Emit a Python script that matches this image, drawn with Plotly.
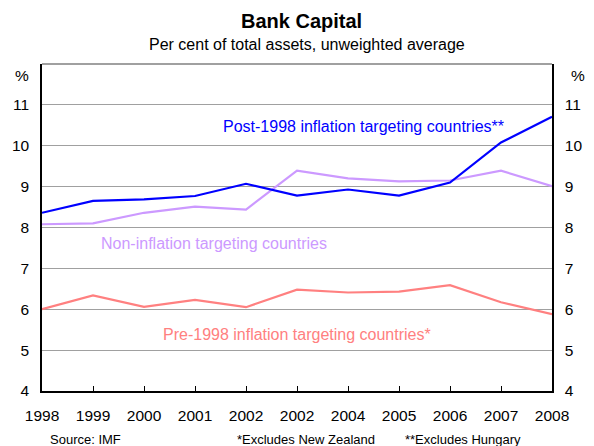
import plotly.graph_objects as go

# Bank capital ratios, per cent of total assets (unweighted average)
years = ["1998", "1999", "2000", "2001", "2002", "2002", "2004", "2005", "2006", "2007", "2008"]
post_1998_it = [8.36, 8.65, 8.69, 8.77, 9.07, 8.78, 8.93, 8.78, 9.10, 10.08, 10.71]
non_it = [8.08, 8.10, 8.36, 8.51, 8.44, 9.39, 9.20, 9.13, 9.15, 9.39, 9.01]
pre_1998_it = [6.00, 6.34, 6.06, 6.23, 6.05, 6.48, 6.41, 6.43, 6.59, 6.17, 5.88]
y_ticks = [4, 5, 6, 7, 8, 9, 10, 11]

xpos = list(range(len(years)))
FONT = "Liberation Sans, Arial, sans-serif"
PLOT_TOP, PLOT_H, PLOT_L, PLOT_W = 64, 327, 40, 519


def py(pixel_y):
    """Paper y coordinate from a pixel row of the page."""
    return 1 - (pixel_y - PLOT_TOP) / PLOT_H


def px(pixel_x):
    """Paper x coordinate from a pixel column of the page."""
    return (pixel_x - PLOT_L) / PLOT_W


fig = go.Figure()
series = [
    (non_it, "#CC99FF"),
    (pre_1998_it, "#FF8080"),
    (post_1998_it, "#0000FF"),
]
for vals, col in series:
    fig.add_trace(go.Scatter(x=xpos, y=vals, mode="lines",
                             line=dict(color=col, width=2.2), showlegend=False,
                             hoverinfo="skip"))
# invisible trace to drive the right-hand axis
fig.add_trace(go.Scatter(x=xpos, y=pre_1998_it, yaxis="y2", mode="lines",
                         line=dict(width=0), opacity=0, showlegend=False,
                         hoverinfo="skip"))

fig.update_layout(
    width=594, height=446,
    margin=dict(l=40, r=35, t=64, b=55),
    paper_bgcolor="white", plot_bgcolor="white",
    font=dict(family=FONT, size=15.5, color="black"),
    xaxis=dict(range=[0, len(years) - 1], tickvals=xpos, ticktext=years,
               ticks="inside", ticklen=5, tickcolor="black", tickwidth=1,
               showgrid=False, zeroline=False,
               showline=True, linecolor="black", linewidth=1.5,
               ticklabelstandoff=10, tickfont=dict(size=15.5)),
    yaxis=dict(range=[4, 12], tickvals=y_ticks, ticks="", showgrid=True,
               gridcolor="#A0A0A0", gridwidth=1, zeroline=False,
               showline=True, linecolor="black", linewidth=1.5,
               ticklabelstandoff=8, tickfont=dict(size=15.5)),
    yaxis2=dict(range=[4, 12], tickvals=y_ticks, overlaying="y", side="right",
                ticks="", showgrid=False, zeroline=False,
                showline=True, linecolor="black", linewidth=1.5,
                ticklabelstandoff=8, tickfont=dict(size=15.5)),
    shapes=[dict(type="line", xref="paper", yref="paper", x0=0, x1=1, y0=1, y1=1,
                 line=dict(color="#808080", width=1.5))],
)

# title and subtitle
fig.add_annotation(text="<b>Bank Capital</b>", xref="paper", yref="paper",
                   x=px(304), y=py(21), showarrow=False,
                   font=dict(size=20, color="black", family=FONT),
                   xanchor="center", yanchor="middle")
fig.add_annotation(text="Per cent of total assets, unweighted average",
                   xref="paper", yref="paper", x=px(310), y=py(45), showarrow=False,
                   font=dict(size=16, color="black", family=FONT),
                   xanchor="center", yanchor="middle")

# axis unit labels
for xp in (px(20), px(585)):
    fig.add_annotation(text="%", xref="paper", yref="paper", x=xp, y=py(75),
                       showarrow=False, font=dict(size=15.5, family=FONT),
                       xanchor="center", yanchor="middle")

# series labels
labels = [
    ("Post-1998 inflation targeting countries**", 367, 127, "#0000FF"),
    ("Non-inflation targeting countries", 215, 243, "#CC99FF"),
    ("Pre-1998 inflation targeting countries*", 300, 334, "#FF8080"),
]
for txt, lx, ly, col in labels:
    fig.add_annotation(text=txt, xref="paper", yref="paper", x=px(lx), y=py(ly),
                       showarrow=False, font=dict(size=16, color=col, family=FONT),
                       xanchor="center", yanchor="middle")

# footnotes
foot = [("Source: IMF", 46), ("*Excludes New Zealand", 236), ("**Excludes Hungary", 407)]
for txt, fx in foot:
    fig.add_annotation(text=txt, xref="paper", yref="paper", x=px(fx),
                       y=py(439), showarrow=False,
                       font=dict(size=13, family=FONT),
                       xanchor="left", yanchor="middle")

fig.write_html("out.html")
